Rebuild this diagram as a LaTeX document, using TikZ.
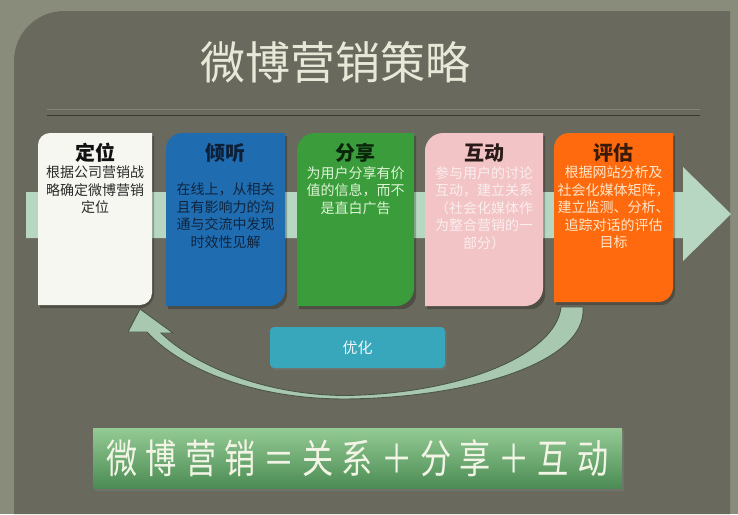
\documentclass[tikz,border=0pt]{standalone}
\usepackage{fontspec}
\setmainfont{Noto Sans CJK SC}
\newfontfamily\cjk{Noto Sans CJK SC}
\newfontfamily\bannerfont[FakeStretch=0.78,LetterSpace=20]{Noto Sans CJK SC}
\usetikzlibrary{calc,shadows}
\definecolor{outerbg}{HTML}{8A8C7B}
\definecolor{panelbg}{HTML}{6A695D}
\definecolor{titlec}{HTML}{E8E8D8}
\definecolor{bandc}{HTML}{B7D7C3}
\definecolor{arrowc}{HTML}{A9C8B0}
\definecolor{arrowedge}{HTML}{4A5648}
\definecolor{fillA}{HTML}{F7F7F2}
\definecolor{fillB}{HTML}{1F6DB0}
\definecolor{fillC}{HTML}{3A9C3A}
\definecolor{fillD}{HTML}{F2C4C6}
\definecolor{fillE}{HTML}{FF6A0E}
\definecolor{ttlA}{HTML}{111111}
\definecolor{ttlB}{HTML}{0D2038}
\definecolor{ttlC}{HTML}{0A260A}
\definecolor{ttlD}{HTML}{2A1A1A}
\definecolor{ttlE}{HTML}{3A1A08}
\definecolor{txtA}{HTML}{2A2A2A}
\definecolor{txtB}{HTML}{10243E}
\definecolor{txtC}{HTML}{E0F5D8}
\definecolor{txtD}{HTML}{FBEEEE}
\definecolor{txtE}{HTML}{FFE6C8}
\definecolor{optc}{HTML}{38A7BC}
\definecolor{optt}{HTML}{EEF8F8}
\definecolor{bantop}{HTML}{94CA94}
\definecolor{banbot}{HTML}{4C8C54}
\definecolor{bantext}{HTML}{F2F5E6}
\newcommand\rdshape[5]{%
 \path[#3] ($(#1.south west)+(#4,#5)$) -- ($(#1.north west)+(#4,#5+#2)$)
 .. controls ($(#1.north west)+(#4,#5+0.45*#2)$) and ($(#1.north west)+(#4+0.45*#2,#5)$) .. ($(#1.north west)+(#4+#2,#5)$)
 -- ($(#1.north east)+(#4,#5)$) -- ($(#1.south east)+(#4,#5-#2)$)
 .. controls ($(#1.south east)+(#4,#5-0.45*#2)$) and ($(#1.south east)+(#4-0.45*#2,#5)$) .. ($(#1.south east)+(#4-#2,#5)$)
 -- cycle;}
\begin{document}
\begin{tikzpicture}[x=1pt,y=-1pt,
  frame/.style={inner sep=0pt,outer sep=0pt,draw=none},
  ttl/.style={inner sep=0pt,font=\fontsize{20}{24}\selectfont\bfseries},
  body/.style={inner sep=0pt,anchor=north,align=center,font=\fontsize{14}{17.5}\selectfont},
  boxshadow/.style={fill=black,opacity=0.25}]
\useasboundingbox (0,0) rectangle (738,514);
\fill[outerbg] (0,0) rectangle (738,514);
\fill[panelbg] (14,514) -- (14,61) .. controls (14,33.4) and (36.4,11) .. (64,11) -- (730,11) -- (730,514) -- cycle;
% title
\node[inner sep=0pt,text=titlec,font=\fontsize{45}{50}\selectfont] (title) at (335,62) {微博营销策略};
\draw[color=outerbg!80!panelbg,line width=1pt] (47,109) -- (700,109);
\draw[color=panelbg!55!black,line width=1.5pt] (47,115.5) -- (700,115.5);
% band arrow
\fill[bandc] (26,192) -- (683,192) -- (683,167) -- (731,214) -- (683,261) -- (683,238) -- (26,238) -- cycle;
% curved arrow
\fill[arrowc,draw=arrowedge,line width=0.9pt] (583,307) .. controls (588,362) and (470,398) .. (345,399)
  .. controls (252,399) and (180,368) .. (147,332) -- (128,332) -- (140,309) -- (173,333) -- (161,333)
  .. controls (195,366) and (265,395) .. (345,395.5) .. controls (460,394) and (556,355) .. (561,307) -- cycle;
% frames
\node[frame,minimum width=114,minimum height=172] (b1) at (95,219) {};
\node[frame,minimum width=119,minimum height=173] (b2) at (225.5,219.5) {};
\node[frame,minimum width=117,minimum height=173] (b3) at (355.5,219.5) {};
\node[frame,minimum width=118,minimum height=173] (b4) at (484,219.5) {};
\node[frame,minimum width=119,minimum height=169] (b5) at (613.5,217.5) {};
\foreach \b in {b1,b2,b3,b4,b5}{\rdshape{\b}{14}{boxshadow}{2}{3}}
\rdshape{b1}{12}{fill=fillA}{0}{0}
\rdshape{b2}{16}{fill=fillB}{0}{0}
\rdshape{b3}{18}{fill=fillC}{0}{0}
\rdshape{b4}{18}{fill=fillD}{0}{0}
\rdshape{b5}{15}{fill=fillE}{0}{0}
% titles
\node[ttl,text=ttlA] (t1) at ($(b1.north)+(0,20)$) {定位};
\node[ttl,text=ttlB] (t2) at ($(b2.north)+(0,20)$) {倾听};
\node[ttl,text=ttlC] (t3) at ($(b3.north)+(0,20)$) {分享};
\node[ttl,text=ttlD] (t4) at ($(b4.north)+(0,20)$) {互动};
\node[ttl,text=ttlE] (t5) at ($(b5.north)+(0,20)$) {评估};
% bodies
\node[body,text=txtA] (d1) at ($(b1.north)+(0,33)$) {根据公司营销战\\略确定微博营销\\定位};
\node[body,text=txtB] (d2) at ($(b2.north)+(0,50)$) {在线上，从相关\\且有影响力的沟\\通与交流中发现\\时效性见解};
\node[body,text=txtC] (d3) at ($(b3.north)+(0,33)$) {为用户分享有价\\值的信息，而不\\是直白广告};
\node[body,text=txtD] (d4) at ($(b4.north)+(0,33)$) {参与用户的讨论\\互动，建立关系\\（社会化媒体作\\为整合营销的一\\部分）};
\node[body,text=txtE] (d5) at ($(b5.north)+(0,33)$) {根据网站分析及\\社会化媒体矩阵，\\建立监测、分析、\\追踪对话的评估\\目标};
% optimise box
\node[fill=optc,rounded corners=4pt,minimum width=175,minimum height=41,inner sep=0pt,
  text=optt,font=\fontsize{15}{18}\selectfont,drop shadow={shadow xshift=1.5pt,shadow yshift=-2pt,opacity=0.35}] (opt) at (357.5,347.5) {优化};
% banner
\node[minimum width=529,minimum height=60,inner sep=0pt,top color=bantop,bottom color=banbot,
  drop shadow={shadow xshift=2pt,shadow yshift=-3pt,opacity=0.4},
  text=bantext,font=\bannerfont\fontsize{40}{44}\selectfont] (banner) at (357.5,458) {微博营销＝关系＋分享＋互动};
\end{tikzpicture}
\end{document}
